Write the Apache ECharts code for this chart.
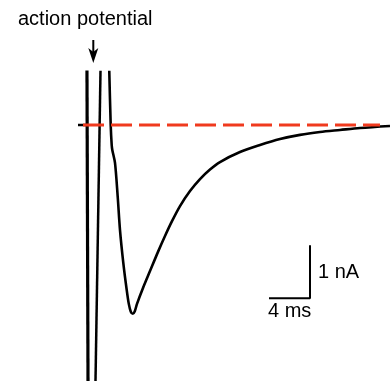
<!DOCTYPE html>
<html>
<head>
<meta charset="utf-8">
<script src="https://cdn.jsdelivr.net/npm/echarts@6/dist/echarts.min.js"></script>
<style>html,body{margin:0;padding:0;background:#fff}#c{width:390px;height:381px}</style>
</head>
<body>
<div id="c"></div>
<script>
// time in ms (0 = action potential), current in nA (0 = baseline)
var baselineTimes = [-0.9, 0];
var baselineCurrents = [0, 0];
var spike1Times = [-0.02, 0.12];
var spike1Currents = [2, -6];
var spike2Times = [0.76, 1.43];
var spike2Currents = [-6, 2];
var eedTimes = [2.1, 2.23, 2.37, 2.47, 2.53, 2.8, 3.07, 3.3, 3.63, 3.97, 4.18, 4.38, 4.58, 4.78, 5.0, 5.6, 6.3, 7.1, 7.8, 8.5, 9.3, 10.3, 11.3, 12.3, 13.3, 15.3, 17.3, 19.3, 21.3, 23.3, 25.3, 27.3, 30.3];
var eedCurrents = [2, 1.02, 0, -0.385, -0.48, -0.73, -1.38, -2.02, -2.65, -3.17, -3.44, -3.59, -3.63, -3.58, -3.44, -3.135, -2.81, -2.44, -2.135, -1.85, -1.56, -1.27, -1.04, -0.856, -0.712, -0.52, -0.385, -0.27, -0.19, -0.135, -0.096, -0.058, -0.019];
var refTimes = [-0.4, 29.3];
var refCurrents = [0, 0];
var scaleBarTimes = [18.3, 22.3, 22.3];
var scaleBarCurrents = [-3.33, -3.33, -2.33];
var labels = ['action potential', '1 nA', '4 ms'];

function pairs(xs, ys){ return xs.map(function(x,i){ return [x, ys[i]]; }); }

var chart = echarts.init(document.getElementById('c'), null, {renderer:'canvas'});
var lineBase = {type:'line', showSymbol:false, symbol:'none', clip:true, animation:false, silent:true};
var font = '20px "Liberation Sans", Arial, sans-serif';
chart.setOption({
  animation:false,
  grid:{left:0, right:0, top:72, bottom:0},
  xAxis:{type:'value', min:-8.7, max:30.3, show:false},
  yAxis:{type:'value', min:-4.923, max:1.019, show:false},
  series:[
    Object.assign({}, lineBase, {data:pairs(baselineTimes, baselineCurrents), lineStyle:{color:'#000', width:2.5}}),
    Object.assign({}, lineBase, {data:pairs(spike1Times, spike1Currents), lineStyle:{color:'#000', width:3.2}}),
    Object.assign({}, lineBase, {data:pairs(spike2Times, spike2Currents), lineStyle:{color:'#000', width:2.5}}),
    Object.assign({}, lineBase, {data:pairs(eedTimes, eedCurrents), smooth:0.3, lineStyle:{color:'#000', width:2.6}}),
    Object.assign({}, lineBase, {data:pairs(refTimes, refCurrents), z:5, lineStyle:{color:'#f03a1e', width:3, type:[21,7]}}),
    Object.assign({}, lineBase, {data:pairs(scaleBarTimes, scaleBarCurrents), clip:false, lineStyle:{color:'#000', width:2, cap:'square'}})
  ],
  graphic:[
    {type:'text', left:18, top:9, style:{text:labels[0], font:font, fill:'#000'}},
    {type:'line', shape:{x1:93.3, y1:40, x2:93.3, y2:55}, style:{stroke:'#000', lineWidth:2}},
    {type:'polygon', shape:{points:[[88.3,48],[93.3,63],[98.3,48],[93.3,52]]}, style:{fill:'#000'}},
    {type:'text', left:318, top:262, style:{text:labels[1], font:font, fill:'#000'}},
    {type:'text', left:268, top:301, style:{text:labels[2], font:font, fill:'#000'}}
  ]
});
</script>
</body>
</html>
